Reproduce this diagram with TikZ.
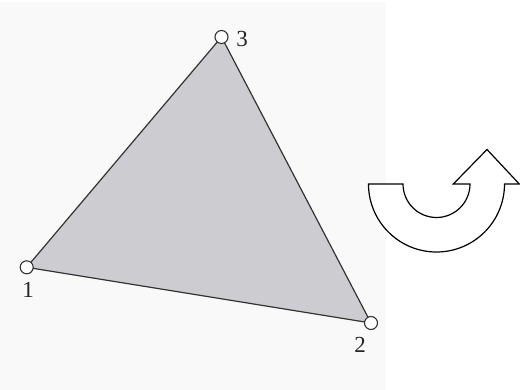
\documentclass[tikz,border=0pt]{standalone}
\usepackage{fontspec}
\setmainfont{Liberation Serif}
\definecolor{bgpanel}{HTML}{F9F9F9}
\definecolor{trifill}{HTML}{CDCDD1}
\definecolor{edgecol}{HTML}{333333}
\begin{document}
\begin{tikzpicture}[x=1pt,y=-1pt,
  vertex/.style={circle,draw=edgecol,fill=white,line width=1.1pt,inner sep=0pt,minimum size=13pt},
  lbl/.style={font=\fontsize{23}{25}\selectfont,inner sep=0pt,text=black!85},
  edge/.style={draw=edgecol,line width=1.2pt}]
\useasboundingbox (0,0) rectangle (520,390);
\fill[white] (0,0) rectangle (520,390);
\fill[bgpanel] (0,2) rectangle (386,390);
\coordinate (p1) at (26.7,267.3);
\coordinate (p2) at (371,323);
\coordinate (p3) at (221.5,37);
\fill[trifill] (p1) -- (p2) -- (p3) -- cycle;
\draw[edge] (p1) -- (p2) -- (p3) -- cycle;
\node[vertex] (v1) at (p1) {};
\node[vertex] (v2) at (p2) {};
\node[vertex] (v3) at (p3) {};
\node[lbl] (l1) at (28,290) {1};
\node[lbl] (l2) at (360,345) {2};
\node[lbl] (l3) at (242,39) {3};
% curved arrow
\draw[black,line width=1.2pt,fill=white,line join=miter]
  (368.5,184) -- (403,184)
  arc[start angle=180,end angle=0,radius=33.5]
  -- (453.3,184) -- (487,149.5) -- (519.3,184) -- (504.5,184)
  arc[start angle=0,end angle=180,radius=68] -- cycle;
\end{tikzpicture}
\end{document}
